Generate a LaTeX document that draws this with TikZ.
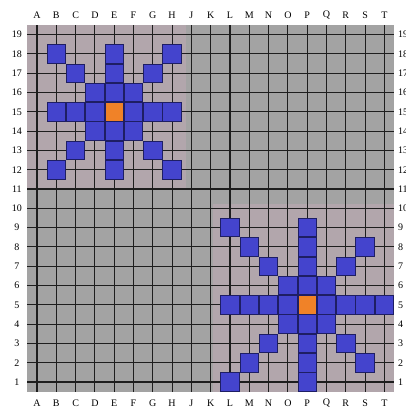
\documentclass[tikz,border=0pt]{standalone}
\usepackage{fontspec}
\setmainfont{Liberation Serif}
\usepackage{xcolor}
\usepackage{tikz}
\definecolor{boardgray}{RGB}{163, 163, 163}
\definecolor{zonepink}{RGB}{178, 166, 172}
\definecolor{gridline}{RGB}{30, 30, 30}
\definecolor{stoneblue}{RGB}{68, 68, 205}
\definecolor{stoneedge}{RGB}{30, 30, 100}
\definecolor{centerorange}{RGB}{240, 130, 40}
\tikzset{
    board/.style={fill=boardgray},
    zone/.style={fill=zonepink},
    gridrule/.style={draw=gridline, line width=1.1pt},
    stone/.style={rectangle, draw=stoneedge, fill=stoneblue, line width=0.8pt, minimum size=18.5pt, inner sep=0pt},
    centerstone/.style={stone, fill=centerorange},
    coordlabel/.style={font=\fontsize{10}{12}\selectfont, text=black, inner sep=0pt}
}

\begin{document}
\begin{tikzpicture}[x=19.3pt, y=19.3pt]
    \useasboundingbox (0pt,0pt) rectangle (406pt,415pt);
    \fill[white] (0pt,0pt) rectangle (406pt,415pt);

    \begin{scope}[shift={(17.7pt,13.7pt)}]
        % Board and shaded zones
        \fill[board] (0.5,0.5) rectangle (19.5,19.5);
        \fill[zone] (0.5,10.95) rectangle (8.7,19.5);
        \fill[zone] (10.1,0.5) rectangle (19.5,10.2);

        % Grid
        \foreach \i in {1,...,19} {
            \draw[gridrule] (\i,0.5) -- (\i,19.5);
            \draw[gridrule] (0.5,\i) -- (19.5,\i);
        }

        % Column and row labels
        \foreach \l [count=\c] in {A,B,C,D,E,F,G,H,J,K,L,M,N,O,P,Q,R,S,T} {
            \node[coordlabel] (top-\c) at (\c,20.02) {\l};
            \node[coordlabel] (bot-\c) at (\c,-0.1) {\l};
        }
        \foreach \r in {1,...,19} {
            \node[coordlabel] (left-\r) at (-0.04,\r) {\r};
            \node[coordlabel, anchor=west] (right-\r) at (19.7,\r) {\r};
        }

        % Upper left group
        \foreach \c/\r in {2/18,5/18,8/18,3/17,5/17,7/17,4/16,5/16,6/16,
                           2/15,3/15,4/15,6/15,7/15,8/15,4/14,5/14,6/14,
                           3/13,5/13,7/13,2/12,5/12,8/12}
            \node[stone] (ul-\c-\r) at (\c,\r) {};
        \node[centerstone] (ulcenter) at (5,15) {};

        % Lower right group
        \foreach \c/\r in {11/9,15/9,12/8,15/8,18/8,13/7,15/7,17/7,14/6,15/6,16/6,
                           11/5,12/5,13/5,14/5,16/5,17/5,18/5,19/5,14/4,15/4,16/4,
                           13/3,15/3,17/3,12/2,15/2,18/2,11/1,15/1}
            \node[stone] (lr-\c-\r) at (\c,\r) {};
        \node[centerstone] (lrcenter) at (15,5) {};
    \end{scope}
\end{tikzpicture}
\end{document}
